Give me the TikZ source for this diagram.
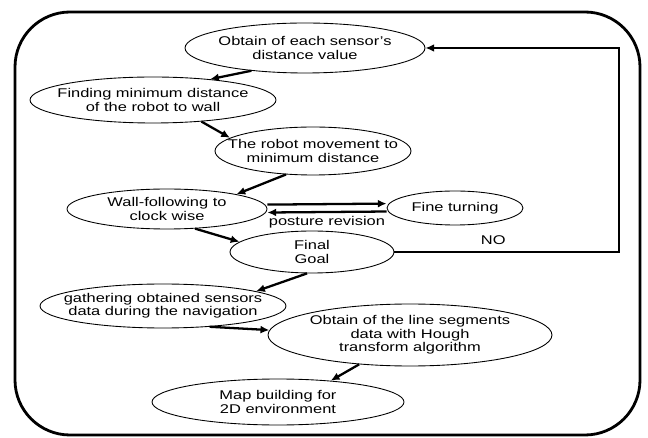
\documentclass[tikz,border=0pt]{standalone}
\usepackage{fontspec}
\setmainfont[FakeStretch=1.3]{Liberation Sans}
\usetikzlibrary{shapes.geometric}
\usetikzlibrary{arrows.meta}

\begin{document}
\begin{tikzpicture}[x=0.02cm,y=-0.02cm,font=\fontsize{7.2}{7.6}\selectfont,
    st/.style={draw,ellipse,line width=0.5pt,inner xsep=-9pt,inner ysep=0pt,align=center},
    fl/.style={-{Latex[length=5pt,width=4.5pt]},line width=1.3pt}]
    \useasboundingbox (0,0) rectangle (648,438);
    \draw[line width=1.6pt,rounded corners=1.1cm] (15,12) rectangle (640,435);
    % steps
    \node[st,minimum width=4.8cm,minimum height=1cm] (obtain) at (305,48) {Obtain of each sensor's\\distance value};
    \node[st,minimum width=4.92cm,minimum height=0.92cm] (finding) at (153,100) {Finding minimum distance\\of the robot to wall};
    \node[st,minimum width=3.92cm,minimum height=0.96cm] (movement) at (313,151) {The robot movement to\\minimum distance};
    \node[st,minimum width=4cm,minimum height=0.8cm] (wall) at (167,209) {Wall-following to\\clock wise};
    \node[st,minimum width=2.72cm,minimum height=0.68cm] (fine) at (455,208) {Fine turning};
    \node[st,minimum width=3.28cm,minimum height=0.84cm] (goal) at (312,252) {Final\\Goal};
    \node[st,minimum width=4.92cm,minimum height=0.88cm] (gather) at (163,306) {gathering obtained sensors\\data during the navigation};
    \node[st,minimum width=5.68cm,minimum height=1.24cm] (hough) at (410,335) {Obtain of the line segments\\data with Hough\\transform algorithm};
    \node[st,minimum width=5.04cm,minimum height=0.92cm] (mapb) at (278,402) {Map building for\\2D environment};
    \coordinate (back) at (619,150);
    % flow
    \draw[fl] (obtain.203) -- (finding.20);
    \draw[fl] (finding.336) -- (movement.171);
    \draw[fl] (movement.221) -- (wall.12);
    \draw[fl] ([yshift=2.5pt]wall.east) -- ([yshift=2.5pt]fine.west);
    \draw[fl] ([yshift=-2pt]fine.west) -- node[below=-1.5pt]{posture revision} ([yshift=-2pt]wall.east);
    \draw[fl] (wall.325) -- (goal.172);
    \draw[fl] (goal.east) -| node[pos=0.22,above]{NO} (back) |- (obtain.east);
    \draw[fl] (goal.257) -- (gather.9);
    \draw[fl] (gather.336) -- (hough.178);
    \draw[fl] (hough.210) -- (mapb.22);
\end{tikzpicture}
\end{document}
